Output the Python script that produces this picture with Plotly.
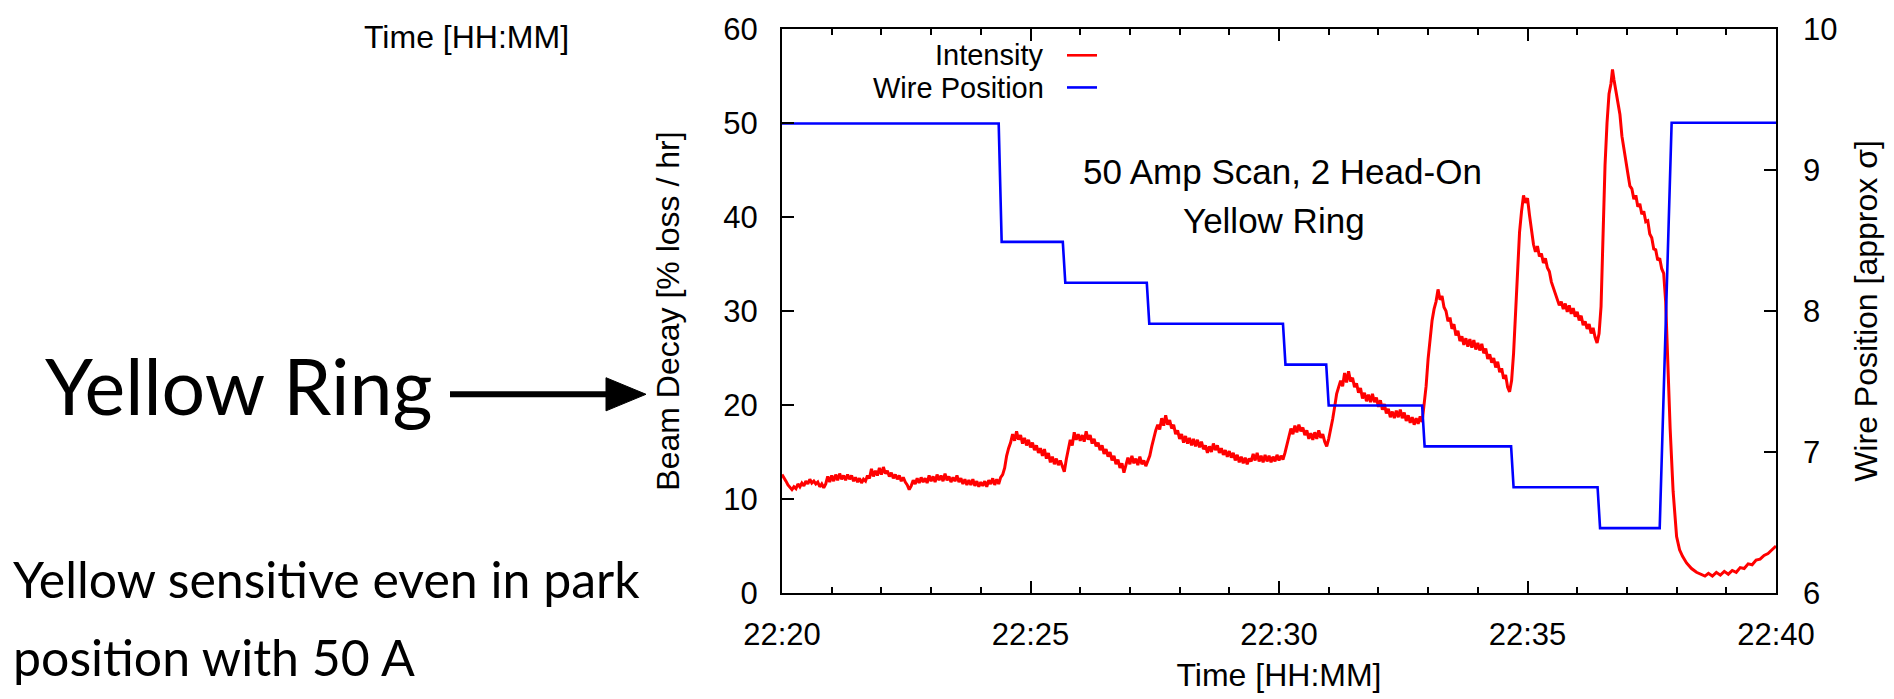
import plotly.graph_objects as go
import pandas as pd

# ---------------- data (minutes after 22:20) ----------------
wire_min = [0.00, 4.36, 4.42, 5.65, 5.70, 7.34, 7.39, 10.08, 10.13, 10.95, 11.00,
            12.88, 12.93, 14.67, 14.72, 16.41, 16.46, 17.66, 17.90, 20.00]
wire_sigma = [9.33, 9.33, 8.49, 8.49, 8.20, 8.20, 7.91, 7.91, 7.62, 7.62, 7.33,
              7.33, 7.04, 7.04, 6.75, 6.75, 6.46, 6.46, 9.335, 9.335]

intensity_min = [
    0.00, 0.04, 0.08, 0.12, 0.16, 0.20, 0.24, 0.28, 0.32, 0.36, 0.40, 0.44, 0.48, 0.52, 0.56, 0.60,
    0.64, 0.68, 0.72, 0.76, 0.80, 0.84, 0.88, 0.92, 0.96, 1.00, 1.04, 1.08, 1.12, 1.16, 1.20, 1.24,
    1.28, 1.32, 1.36, 1.40, 1.44, 1.48, 1.52, 1.56, 1.60, 1.64, 1.68, 1.72, 1.76, 1.80, 1.84, 1.88,
    1.92, 1.96, 2.00, 2.04, 2.08, 2.12, 2.16, 2.20, 2.24, 2.28, 2.32, 2.36, 2.40, 2.44, 2.48, 2.52,
    2.56, 2.60, 2.64, 2.68, 2.72, 2.76, 2.80, 2.84, 2.88, 2.92, 2.96, 3.00, 3.04, 3.08, 3.12, 3.16,
    3.20, 3.24, 3.28, 3.32, 3.36, 3.40, 3.44, 3.48, 3.52, 3.56, 3.60, 3.64, 3.68, 3.72, 3.76, 3.80,
    3.84, 3.88, 3.92, 3.96, 4.00, 4.04, 4.08, 4.12, 4.16, 4.20, 4.24, 4.28, 4.32, 4.36, 4.40, 4.44,
    4.48, 4.52, 4.56, 4.60, 4.64, 4.68, 4.72, 4.76, 4.80, 4.84, 4.88, 4.92, 4.96, 5.00, 5.04, 5.08,
    5.12, 5.16, 5.20, 5.24, 5.28, 5.32, 5.36, 5.40, 5.44, 5.48, 5.52, 5.56, 5.60, 5.64, 5.68, 5.72,
    5.76, 5.80, 5.84, 5.88, 5.92, 5.96, 6.00, 6.04, 6.08, 6.12, 6.16, 6.20, 6.24, 6.28, 6.32, 6.36,
    6.40, 6.44, 6.48, 6.52, 6.56, 6.60, 6.64, 6.68, 6.72, 6.76, 6.80, 6.84, 6.88, 6.92, 6.96, 7.00,
    7.04, 7.08, 7.12, 7.16, 7.20, 7.24, 7.28, 7.32, 7.36, 7.40, 7.44, 7.48, 7.52, 7.56, 7.60, 7.64,
    7.68, 7.72, 7.76, 7.80, 7.84, 7.88, 7.92, 7.96, 8.00, 8.04, 8.08, 8.12, 8.16, 8.20, 8.24, 8.28,
    8.32, 8.36, 8.40, 8.44, 8.48, 8.52, 8.56, 8.60, 8.64, 8.68, 8.72, 8.76, 8.80, 8.84, 8.88, 8.92,
    8.96, 9.00, 9.04, 9.08, 9.12, 9.16, 9.20, 9.24, 9.28, 9.32, 9.36, 9.40, 9.44, 9.48, 9.52, 9.56,
    9.60, 9.64, 9.68, 9.72, 9.76, 9.80, 9.84, 9.88, 9.92, 9.96, 10.00, 10.04, 10.08, 10.12, 10.16,
    10.20, 10.24, 10.28, 10.32, 10.36, 10.40, 10.44, 10.48, 10.52, 10.56, 10.60, 10.64, 10.68, 10.72,
    10.76, 10.80, 10.84, 10.88, 10.92, 10.96, 11.00, 11.04, 11.08, 11.12, 11.16, 11.20, 11.24, 11.28,
    11.32, 11.36, 11.40, 11.44, 11.48, 11.52, 11.56, 11.60, 11.64, 11.68, 11.72, 11.76, 11.80, 11.84,
    11.88, 11.92, 11.96, 12.00, 12.04, 12.08, 12.12, 12.16, 12.20, 12.24, 12.28, 12.32, 12.36, 12.40,
    12.44, 12.48, 12.52, 12.56, 12.60, 12.64, 12.68, 12.72, 12.76, 12.80, 12.84, 12.88, 12.92, 12.96,
    13.00, 13.04, 13.08, 13.12, 13.16, 13.20, 13.24, 13.28, 13.32, 13.36, 13.40, 13.44, 13.48, 13.52,
    13.56, 13.60, 13.64, 13.68, 13.72, 13.76, 13.80, 13.84, 13.88, 13.92, 13.96, 14.00, 14.04, 14.08,
    14.12, 14.16, 14.20, 14.24, 14.28, 14.32, 14.36, 14.40, 14.44, 14.48, 14.52, 14.56, 14.60, 14.64,
    14.68, 14.72, 14.76, 14.80, 14.84, 14.88, 14.92, 14.96, 15.00, 15.04, 15.08, 15.12, 15.16, 15.20,
    15.24, 15.28, 15.32, 15.36, 15.40, 15.44, 15.48, 15.52, 15.56, 15.60, 15.64, 15.68, 15.72, 15.76,
    15.80, 15.84, 15.88, 15.92, 15.96, 16.00, 16.04, 16.08, 16.12, 16.16, 16.20, 16.24, 16.28, 16.32,
    16.36, 16.40, 16.44, 16.48, 16.52, 16.56, 16.60, 16.64, 16.68, 16.71, 16.74, 16.78, 16.82, 16.86,
    16.90, 16.94, 16.98, 17.02, 17.06, 17.10, 17.14, 17.18, 17.22, 17.26, 17.30, 17.34, 17.38, 17.42,
    17.46, 17.50, 17.54, 17.58, 17.62, 17.66, 17.70, 17.74, 17.78, 17.82, 17.87, 17.93, 18.00, 18.06,
    18.12, 18.20, 18.30, 18.40, 18.48, 18.57, 18.64, 18.72, 18.80, 18.88, 18.96, 19.04, 19.12, 19.20,
    19.28, 19.36, 19.44, 19.52, 19.60, 19.68, 19.76, 19.84, 19.92, 20.00]

intensity_val = [
    12.6, 12.3, 11.9, 11.5, 11.3, 11.0, 11.3, 11.1, 11.6, 11.3, 11.7, 11.4, 11.9, 11.6, 12.1, 11.7,
    11.9, 11.6, 11.8, 11.3, 11.6, 11.2, 11.6, 12.4, 11.8, 12.5, 11.9, 12.6, 12.0, 12.7, 12.1, 12.5,
    12.0, 12.6, 12.1, 12.5, 11.9, 12.3, 11.8, 12.2, 11.7, 12.1, 11.9, 12.5, 12.2, 13.2, 12.4, 13.0,
    12.5, 13.3, 12.6, 13.4, 12.7, 13.0, 12.4, 12.8, 12.2, 12.6, 12.1, 12.5, 11.9, 12.3, 11.8, 11.5,
    11.0, 11.4, 12.0, 11.6, 12.2, 11.7, 12.3, 11.8, 12.2, 11.7, 12.5, 11.9, 12.4, 11.8, 12.6, 12.0,
    12.5, 11.9, 12.7, 12.0, 12.4, 11.8, 12.3, 11.9, 12.5, 11.8, 12.2, 11.6, 12.1, 11.5, 12.0, 11.5,
    12.1, 11.4, 11.9, 11.3, 11.8, 11.4, 11.9, 11.3, 12.0, 11.6, 12.2, 11.5, 12.1, 11.6, 12.3, 12.6,
    13.3, 14.6, 15.4, 16.0, 16.9, 16.2, 17.2, 16.3, 16.8, 15.9, 16.5, 15.7, 16.3, 15.5, 16.0, 15.2,
    15.7, 14.9, 15.4, 14.6, 15.3, 14.3, 14.9, 13.9, 14.5, 13.7, 14.3, 13.6, 14.1, 13.5, 12.9, 14.2,
    15.4, 16.3, 15.7, 17.1, 16.3, 16.9, 16.2, 16.8, 16.1, 17.2, 16.3, 16.8, 15.9, 16.4, 15.6, 16.0,
    15.2, 15.7, 14.8, 15.3, 14.5, 15.0, 14.1, 14.6, 13.7, 14.2, 13.3, 13.8, 12.8, 13.6, 14.4, 13.7,
    14.6, 13.8, 14.3, 13.6, 14.5, 13.7, 14.1, 13.5, 14.0, 14.6, 15.6, 16.6, 17.3, 17.9, 17.4, 18.6,
    17.8, 18.9, 17.9, 18.4, 17.5, 17.9, 16.9, 17.3, 16.4, 16.9, 16.0, 16.7, 15.9, 16.5, 15.7, 16.4,
    15.6, 16.3, 15.5, 16.1, 15.3, 15.7, 14.9, 15.6, 15.0, 15.9, 15.2, 15.7, 14.9, 15.4, 14.7, 15.2,
    14.5, 15.1, 14.4, 14.9, 14.1, 14.7, 13.9, 14.5, 13.8, 14.4, 13.7, 14.3, 14.0, 14.8, 14.1, 14.9,
    14.0, 14.6, 13.9, 14.7, 14.0, 14.6, 13.9, 14.5, 14.0, 14.7, 14.1, 14.6, 14.2, 14.9, 15.8,
    16.6, 17.5, 16.9, 17.8, 17.1, 17.9, 17.2, 17.6, 16.8, 17.3, 16.4, 17.0, 16.3, 17.1,
    16.4, 17.3, 16.5, 16.9, 16.1, 15.6, 16.4, 17.4, 18.5, 19.8, 21.2, 21.9, 22.6, 22.0,
    23.4, 22.4, 23.6, 22.5, 22.9, 21.9, 22.3, 21.3, 21.8, 20.7, 21.3, 20.4, 21.1, 20.3,
    21.2, 20.3, 20.8, 19.8, 20.5, 19.5, 20.1, 19.1, 19.6, 18.7, 19.3, 18.6, 19.4, 18.7,
    19.5, 18.6, 19.2, 18.3, 18.9, 18.1, 18.7, 17.9, 18.6, 18.0, 18.8, 18.2, 19.8, 22.0,
    24.9, 27.1, 29.0, 30.2, 31.0, 32.3, 31.2, 31.6, 30.4, 30.0, 28.9, 29.3, 28.1, 28.6,
    27.4, 27.9, 26.8, 27.3, 26.4, 27.1, 26.2, 27.0, 26.1, 26.9, 25.9, 26.6, 25.8, 26.5,
    25.5, 26.0, 24.9, 25.4, 24.5, 25.0, 24.0, 24.6, 23.5, 23.9, 22.8, 23.2, 21.9, 21.4,
    22.6, 25.5, 29.8, 34.5, 38.4, 40.6, 42.3, 41.5, 42.0, 40.2, 38.6, 37.1, 36.3, 36.9,
    35.8, 36.1, 35.1, 35.6, 34.6, 34.2, 33.1, 32.5, 31.7, 31.2, 30.6, 31.0, 30.2, 30.8,
    29.9, 30.6, 29.7, 30.3, 29.4, 29.9, 29.0, 29.5, 28.5, 28.9, 28.1, 28.6, 27.6, 28.2,
    27.2, 26.6, 27.6, 30.5, 38.0, 45.5, 50.0, 53.1, 54.2, 55.7, 54.6, 53.3, 51.8, 50.9,
    48.6, 47.2, 45.5, 44.6, 43.3, 43.0, 41.9, 42.3, 41.1, 41.4, 40.3, 40.6, 39.5, 39.6,
    38.2, 37.8, 36.6, 36.5, 35.4, 35.6, 34.5, 34.0, 31.0, 25.0, 17.5, 10.8, 6.0, 4.6,
    3.9, 3.2, 2.6, 2.2, 2.0, 1.8, 2.1, 1.8, 2.2, 1.9, 2.3, 2.0, 2.4, 2.2,
    2.7, 2.6, 3.1, 3.0, 3.5, 3.6, 4.0, 4.2, 4.6, 5.0]

x_tick_labels = ["22:20", "22:25", "22:30", "22:35", "22:40"]
base = pd.Timestamp("2000-01-01 22:20:00")


def to_time(mins):
    return [base + pd.Timedelta(minutes=m) for m in mins]


# ---------------- geometry helpers ----------------
W, H = 1894, 699
ML, MR, MT, MB = 782, 118, 24, 96
PW, PH = W - ML - MR, H - MT - MB


def px(x):
    return (x - ML) / PW


def py(y):
    return (H - MB - y) / PH


FAM = "Liberation Sans, Arial, sans-serif"
TICK_FONT = dict(family=FAM, size=31, color="black")
TITLE_FONT = dict(family=FAM, size=32, color="black")
LEG_FONT = dict(family=FAM, size=29, color="black")
NOTE_FONT = dict(family=FAM, size=35, color="black")
LEFT_FONT = "Lato, Noto Sans, sans-serif"

fig = go.Figure()
fig.add_trace(go.Scatter(x=to_time(intensity_min), y=intensity_val, mode="lines",
                         line=dict(color="#ff0000", width=3), name="Intensity",
                         showlegend=False))
fig.add_trace(go.Scatter(x=to_time(wire_min), y=wire_sigma, mode="lines", yaxis="y2",
                         line=dict(color="#0000ff", width=2.6), name="Wire Position",
                         showlegend=False))

tickvals = [base + pd.Timedelta(minutes=5 * i) for i in range(5)]

fig.update_layout(
    width=W, height=H,
    margin=dict(l=ML, r=MR, t=MT, b=MB, pad=0),
    paper_bgcolor="white", plot_bgcolor="white",
    font=TICK_FONT,
    showlegend=False,
    xaxis=dict(
        type="date",
        range=[base, base + pd.Timedelta(minutes=20)],
        tickvals=tickvals, ticktext=x_tick_labels,
        ticks="inside", ticklen=12, tickwidth=1.5, tickcolor="black",
        minor=dict(dtick=60000, tick0=base, ticks="inside", ticklen=6,
                   tickwidth=1.5, tickcolor="black", showgrid=False),
        showline=True, linecolor="black", linewidth=2, mirror="ticks",
        showgrid=False, zeroline=False,
        tickfont=TICK_FONT, ticklabelstandoff=13,
        title=dict(text="Time [HH:MM]", font=TITLE_FONT, standoff=12),
    ),
    yaxis=dict(
        range=[0, 60], dtick=10, tick0=0,
        ticks="inside", ticklen=12, tickwidth=1.5, tickcolor="black",
        showline=True, linecolor="black", linewidth=2, mirror=True,
        showgrid=False, zeroline=False,
        tickfont=TICK_FONT, ticklabelstandoff=16,
        title=dict(text="Beam Decay [% loss / hr]", font=TITLE_FONT, standoff=34),
    ),
    yaxis2=dict(
        range=[6, 10], dtick=1, tick0=6, overlaying="y", side="right",
        ticks="inside", ticklen=12, tickwidth=1.5, tickcolor="black",
        showline=False, showgrid=False, zeroline=False,
        tickfont=TICK_FONT, ticklabelstandoff=26,
        title=dict(text="Wire Position [approx σ]", font=TITLE_FONT, standoff=18),
    ),
)

annotations = [
    # legend (gnuplot style: text right-aligned, sample to the right)
    dict(x=px(1046), y=py(51), text="Intensity", xanchor="right", yanchor="middle",
         font=LEG_FONT),
    dict(x=px(1046), y=py(85), text="Wire Position", xanchor="right", yanchor="middle",
         font=LEG_FONT),
    # in-plot label
    dict(x=px(1282), y=py(170), text="50 Amp Scan, 2 Head-On", xanchor="center",
         yanchor="middle", font=NOTE_FONT),
    dict(x=px(1274), y=py(221), text="Yellow Ring", xanchor="center",
         yanchor="middle", font=NOTE_FONT),
    # stray axis title top-left
    dict(x=px(466), y=py(32), text="Time [HH:MM]", xanchor="center", yanchor="middle",
         font=TITLE_FONT),
    # left-side slide text
    dict(x=px(43), y=py(389), text="Yellow Ring", xanchor="left", yanchor="middle",
         font=dict(family=LEFT_FONT, size=77, color="black")),
    dict(x=px(11), y=py(589), text="Yellow sensitive even in park", xanchor="left",
         yanchor="middle", font=dict(family=LEFT_FONT, size=50, color="black")),
    dict(x=px(11), y=py(669), text="position with 50 A", xanchor="left",
         yanchor="middle", font=dict(family=LEFT_FONT, size=50, color="black")),
]
for a in annotations:
    a.update(xref="paper", yref="paper", showarrow=False)
fig.update_layout(annotations=annotations)

shapes = [
    dict(type="line", x0=px(1067), x1=px(1097), y0=py(51), y1=py(51),
         line=dict(color="#ff0000", width=2.6)),
    dict(type="line", x0=px(1067), x1=px(1097), y0=py(84), y1=py(84),
         line=dict(color="#0000ff", width=2.6)),
    # arrow shaft and head
    dict(type="line", x0=px(450), x1=px(612), y0=py(399), y1=py(399),
         line=dict(color="black", width=6)),
    dict(type="path",
         path=f"M {px(606)},{py(382)} L {px(646)},{py(399)} L {px(606)},{py(416)} Z",
         fillcolor="black", line=dict(color="black", width=1)),
]
for s in shapes:
    s.update(xref="paper", yref="paper")
fig.update_layout(shapes=shapes)

fig.write_html("out.html")
